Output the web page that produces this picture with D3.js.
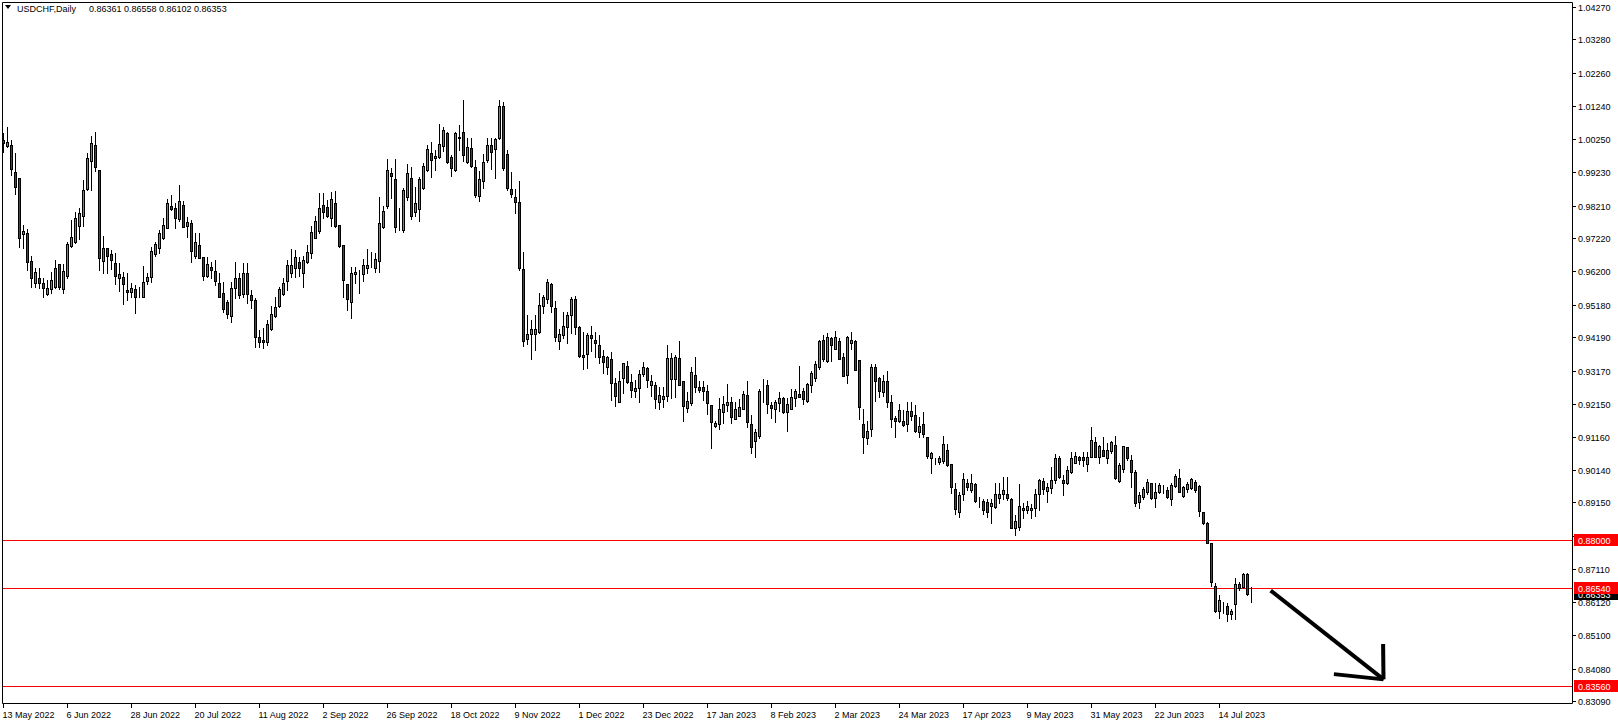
<!DOCTYPE html>
<html><head><meta charset="utf-8">
<script src="https://cdn.jsdelivr.net/npm/d3@7"></script>
<style>
html,body{margin:0;padding:0;background:#fff;overflow:hidden;}
svg{display:block;}
text{font-family:"Liberation Sans",Arial,sans-serif;font-size:9px;}
</style></head><body>
<svg id="c" width="1618" height="725"></svg>
<script>
// ---------------- data ----------------
const symbolTitle = "USDCHF,Daily";
const lastQuote = ["0.86361", "0.86558", "0.86102", "0.86353"];

const open = [1.0021,1.0004,1.0006,0.9922,0.9904,0.9733,0.9736,0.9652,0.9584,0.9599,
0.9584,0.9550,0.9565,0.9574,0.9642,0.9565,0.9607,0.9699,0.9709,0.9760,
0.9790,0.9871,0.9958,1.0006,0.9930,0.9652,0.9691,0.9673,0.9645,0.9601,
0.9604,0.9563,0.9556,0.9565,0.9545,0.9543,0.9591,0.9604,0.9674,0.9691,
0.9723,0.9754,0.9820,0.9813,0.9780,0.9823,0.9760,0.9767,0.9668,0.9701,
0.9663,0.9607,0.9635,0.9621,0.9586,0.9553,0.9527,0.9485,0.9568,0.9599,
0.9551,0.9614,0.9548,0.9533,0.9421,0.9411,0.9404,0.9444,0.9485,0.9513,
0.9550,0.9591,0.9616,0.9630,0.9648,0.9616,0.9648,0.9675,0.9723,0.9743,
0.9823,0.9816,0.9782,0.9828,0.9761,0.9701,0.9582,0.9526,0.9611,0.9611,
0.9611,0.9630,0.9637,0.9630,0.9653,0.9757,0.9821,0.9919,0.9902,0.9751,
0.9745,0.9846,0.9904,0.9800,0.9810,0.9876,0.9931,0.9980,0.9965,0.9970,
1.0003,1.0041,0.9968,0.9929,1.0028,1.0045,0.9953,0.9996,0.9938,0.9850,
0.9896,0.9960,1.0006,0.9994,1.0026,1.0125,0.9977,0.9871,0.9846,0.9833,
0.9626,0.9413,0.9428,0.9428,0.9436,0.9513,0.9535,0.9582,0.9507,0.9409,
0.9427,0.9451,0.9486,0.9535,0.9449,0.9365,0.9367,0.9425,0.9411,0.9394,
0.9361,0.9329,0.9353,0.9279,0.9223,0.9296,0.9330,0.9282,0.9254,0.9263,
0.9306,0.9325,0.9274,0.9272,0.9220,0.9232,0.9241,0.9293,0.9293,0.9355,
0.9285,0.9202,0.9217,0.9303,0.9267,0.9267,0.9255,0.9211,0.9149,0.9153,
0.9191,0.9213,0.9220,0.9171,0.9180,0.9200,0.9243,0.9154,0.9104,0.9119,
0.9281,0.9273,0.9212,0.9201,0.9218,0.9233,0.9190,0.9201,0.9235,0.9246,
0.9255,0.9226,0.9272,0.9296,0.9327,0.9410,0.9348,0.9416,0.9384,0.9407,
0.9359,0.9303,0.9403,0.9407,0.9349,0.9154,0.9113,0.9138,0.9327,0.9294,
0.9251,0.9286,0.9221,0.9172,0.9165,0.9163,0.9153,0.9193,0.9181,0.9129,
0.9153,0.9114,0.9052,0.9045,0.9037,0.9041,0.9074,0.9032,0.8956,0.8885,
0.8941,0.8973,0.8953,0.8970,0.8922,0.8920,0.8917,0.8905,0.8900,0.8930,
0.8940,0.8941,0.8926,0.8838,0.8841,0.8892,0.8892,0.8892,0.8899,0.8940,
0.8980,0.8951,0.8958,0.8984,0.9050,0.8984,0.8973,0.9007,0.9034,0.9053,
0.9053,0.9031,0.9055,0.9098,0.9055,0.9075,0.9050,0.9073,0.9090,0.8981,
0.9016,0.9083,0.9045,0.9008,0.8915,0.8933,0.8948,0.8973,0.8928,0.8946,
0.8957,0.8953,0.8925,0.8964,0.8989,0.8936,0.8955,0.8958,0.8977,0.8965,
0.8885,0.8853,0.8790,0.8661,0.8585,0.8602,0.8599,0.8574,0.8604,0.8666,
0.8656,0.8697,0.86361];

const high = [1.0041,1.0060,1.0021,0.9980,0.9906,0.9762,0.9749,0.9667,0.9630,0.9630,
0.9599,0.9594,0.9619,0.9655,0.9643,0.9642,0.9711,0.9777,0.9802,0.9815,
0.9899,0.9980,1.0034,1.0045,0.9930,0.9728,0.9691,0.9685,0.9675,0.9645,
0.9619,0.9614,0.9586,0.9579,0.9574,0.9638,0.9615,0.9696,0.9711,0.9746,
0.9784,0.9842,0.9853,0.9828,0.9883,0.9835,0.9785,0.9777,0.9736,0.9736,
0.9665,0.9665,0.9650,0.9655,0.9614,0.9589,0.9533,0.9589,0.9648,0.9614,
0.9645,0.9645,0.9563,0.9538,0.9441,0.9446,0.9472,0.9513,0.9541,0.9574,
0.9599,0.9655,0.9687,0.9685,0.9665,0.9667,0.9701,0.9759,0.9789,0.9858,
0.9858,0.9838,0.9863,0.9866,0.9762,0.9701,0.9582,0.9632,0.9633,0.9624,
0.9657,0.9687,0.9678,0.9675,0.9846,0.9820,0.9962,0.9937,0.9962,0.9813,
0.9874,0.9947,0.9938,0.9879,0.9907,0.9950,1.0006,1.0016,0.9991,1.0070,
1.0062,1.0044,0.9974,1.0047,1.0067,1.0143,1.0026,1.0026,0.9960,0.9925,
0.9977,1.0026,1.0026,1.0026,1.0143,1.0138,0.9991,0.9922,0.9871,0.9896,
0.9680,0.9487,0.9472,0.9487,0.9555,0.9548,0.9597,0.9584,0.9530,0.9444,
0.9497,0.9497,0.9543,0.9545,0.9452,0.9436,0.9431,0.9454,0.9436,0.9426,
0.9380,0.9362,0.9375,0.9294,0.9316,0.9340,0.9346,0.9306,0.9289,0.9319,
0.9345,0.9327,0.9304,0.9284,0.9268,0.9266,0.9396,0.9370,0.9365,0.9408,
0.9285,0.9251,0.9328,0.9359,0.9286,0.9287,0.9273,0.9212,0.9162,0.9233,
0.9240,0.9277,0.9238,0.9223,0.9230,0.9256,0.9287,0.9182,0.9139,0.9260,
0.9292,0.9289,0.9221,0.9228,0.9253,0.9236,0.9233,0.9261,0.9261,0.9331,
0.9263,0.9279,0.9315,0.9348,0.9411,0.9427,0.9433,0.9419,0.9438,0.9418,
0.9371,0.9423,0.9434,0.9411,0.9350,0.9200,0.9164,0.9338,0.9337,0.9299,
0.9304,0.9316,0.9243,0.9179,0.9215,0.9197,0.9222,0.9222,0.9212,0.9177,
0.9192,0.9116,0.9070,0.9050,0.9058,0.9118,0.9093,0.9033,0.8975,0.8948,
0.9004,0.8986,0.9002,0.8973,0.8933,0.8925,0.8925,0.8926,0.8973,0.8973,
0.8992,0.8992,0.8930,0.8877,0.8971,0.8912,0.8919,0.8910,0.8955,0.8987,
0.8991,0.8973,0.9024,0.9063,0.9057,0.8999,0.9026,0.9068,0.9070,0.9057,
0.9070,0.9070,0.9146,0.9114,0.9090,0.9116,0.9095,0.9104,0.9118,0.9036,
0.9088,0.9085,0.9060,0.9014,0.8948,0.8961,0.8987,0.8975,0.8975,0.8975,
0.8968,0.8963,0.8973,0.9002,0.9016,0.8966,0.8978,0.8991,0.8984,0.8968,
0.8887,0.8856,0.8792,0.8668,0.8632,0.8612,0.8607,0.8590,0.8683,0.8673,
0.8699,0.8699,0.86558];

const low = [0.9986,1.0001,0.9914,0.9855,0.9694,0.9691,0.9624,0.9574,0.9574,0.9568,
0.9541,0.9549,0.9555,0.9568,0.9565,0.9553,0.9599,0.9696,0.9708,0.9719,
0.9760,0.9869,0.9869,0.9925,0.9624,0.9616,0.9616,0.9627,0.9581,0.9561,
0.9520,0.9533,0.9543,0.9492,0.9541,0.9541,0.9582,0.9589,0.9666,0.9675,
0.9719,0.9753,0.9808,0.9752,0.9775,0.9755,0.9726,0.9650,0.9662,0.9661,
0.9594,0.9604,0.9601,0.9579,0.9541,0.9497,0.9479,0.9467,0.9540,0.9538,
0.9543,0.9523,0.9507,0.9390,0.9390,0.9385,0.9396,0.9441,0.9482,0.9510,
0.9548,0.9563,0.9604,0.9604,0.9606,0.9574,0.9645,0.9662,0.9721,0.9738,
0.9784,0.9787,0.9760,0.9757,0.9696,0.9543,0.9502,0.9477,0.9586,0.9553,
0.9592,0.9616,0.9632,0.9617,0.9617,0.9752,0.9813,0.9845,0.9741,0.9746,
0.9741,0.9838,0.9780,0.9790,0.9775,0.9872,0.9925,0.9909,0.9930,0.9965,
0.9989,0.9950,0.9912,0.9927,0.9991,0.9958,0.9950,0.9938,0.9848,0.9835,
0.9874,0.9955,0.9933,0.9906,1.0025,0.9930,0.9869,0.9846,0.9797,0.9624,
0.9393,0.9398,0.9352,0.9380,0.9431,0.9494,0.9525,0.9495,0.9409,0.9384,
0.9416,0.9403,0.9433,0.9428,0.9358,0.9323,0.9326,0.9378,0.9360,0.9340,
0.9309,0.9307,0.9229,0.9210,0.9222,0.9250,0.9281,0.9238,0.9236,0.9223,
0.9302,0.9266,0.9241,0.9202,0.9199,0.9205,0.9225,0.9233,0.9236,0.9272,
0.9165,0.9192,0.9212,0.9253,0.9253,0.9228,0.9184,0.9082,0.9144,0.9138,
0.9156,0.9194,0.9156,0.9170,0.9179,0.9200,0.9146,0.9067,0.9055,0.9113,
0.9223,0.9189,0.9174,0.9159,0.9194,0.9189,0.9134,0.9201,0.9210,0.9236,
0.9215,0.9221,0.9251,0.9287,0.9322,0.9348,0.9345,0.9348,0.9383,0.9353,
0.9302,0.9281,0.9384,0.9319,0.9170,0.9067,0.9092,0.9118,0.9226,0.9236,
0.9241,0.9207,0.9144,0.9116,0.9160,0.9149,0.9134,0.9167,0.9131,0.9116,
0.9116,0.9050,0.9004,0.9032,0.9031,0.9034,0.9027,0.8943,0.8880,0.8870,
0.8922,0.8953,0.8948,0.8917,0.8902,0.8880,0.8872,0.8851,0.8897,0.8912,
0.8926,0.8922,0.8836,0.8816,0.8831,0.8867,0.8882,0.8867,0.8875,0.8892,
0.8940,0.8917,0.8943,0.8973,0.8989,0.8938,0.8971,0.9004,0.9034,0.9031,
0.9027,0.9012,0.9053,0.9053,0.9034,0.9057,0.9034,0.9067,0.8987,0.8978,
0.9009,0.9045,0.8963,0.8904,0.8899,0.8925,0.8941,0.8925,0.8902,0.8943,
0.8945,0.8930,0.8907,0.8961,0.8946,0.8933,0.8948,0.8955,0.8946,0.8875,
0.8849,0.8790,0.8660,0.8582,0.8563,0.8579,0.8554,0.8559,0.8559,0.8648,
0.8653,0.8632,0.86102];

const close = [1.0011,1.0014,0.9932,0.9879,0.9723,0.9743,0.9650,0.9601,0.9617,0.9584,
0.9568,0.9568,0.9594,0.9630,0.9574,0.9621,0.9704,0.9725,0.9784,0.9798,
0.9869,0.9965,1.0012,0.9938,0.9662,0.9691,0.9668,0.9655,0.9607,0.9612,
0.9581,0.9558,0.9570,0.9543,0.9545,0.9589,0.9604,0.9681,0.9703,0.9736,
0.9762,0.9828,0.9811,0.9784,0.9834,0.9757,0.9770,0.9683,0.9709,0.9662,
0.9607,0.9642,0.9624,0.9592,0.9543,0.9505,0.9490,0.9568,0.9601,0.9548,
0.9614,0.9550,0.9533,0.9421,0.9406,0.9406,0.9459,0.9489,0.9511,0.9566,
0.9584,0.9640,0.9640,0.9663,0.9630,0.9655,0.9678,0.9739,0.9774,0.9813,
0.9800,0.9790,0.9840,0.9759,0.9699,0.9595,0.9535,0.9614,0.9617,0.9611,
0.9640,0.9640,0.9637,0.9658,0.9767,0.9804,0.9929,0.9912,0.9755,0.9751,
0.9870,0.9919,0.9790,0.9828,0.9901,0.9941,0.9993,0.9961,0.9972,1.0008,
1.0051,0.9953,0.9935,1.0041,1.0029,0.9975,1.0001,0.9942,0.9853,0.9901,
0.9953,1.0006,0.9984,1.0023,1.0125,0.9935,0.9876,0.9856,0.9833,0.9629,
0.9409,0.9428,0.9443,0.9443,0.9517,0.9541,0.9587,0.9516,0.9421,0.9428,
0.9452,0.9486,0.9535,0.9451,0.9362,0.9360,0.9425,0.9418,0.9403,0.9360,
0.9343,0.9358,0.9281,0.9241,0.9285,0.9340,0.9282,0.9259,0.9264,0.9307,
0.9327,0.9290,0.9285,0.9230,0.9242,0.9240,0.9355,0.9356,0.9358,0.9274,
0.9210,0.9225,0.9313,0.9268,0.9258,0.9256,0.9217,0.9161,0.9156,0.9199,
0.9215,0.9221,0.9177,0.9199,0.9205,0.9247,0.9159,0.9083,0.9130,0.9255,
0.9280,0.9216,0.9204,0.9222,0.9233,0.9190,0.9214,0.9236,0.9255,0.9238,
0.9230,0.9275,0.9310,0.9338,0.9407,0.9354,0.9419,0.9395,0.9419,0.9354,
0.9302,0.9420,0.9410,0.9320,0.9207,0.9116,0.9132,0.9327,0.9287,0.9256,
0.9286,0.9220,0.9171,0.9163,0.9197,0.9152,0.9194,0.9180,0.9133,0.9147,
0.9123,0.9058,0.9065,0.9045,0.9051,0.9092,0.9030,0.8961,0.8895,0.8938,
0.8986,0.8961,0.8973,0.8920,0.8922,0.8893,0.8885,0.8912,0.8940,0.8940,
0.8953,0.8930,0.8838,0.8858,0.8904,0.8897,0.8904,0.8899,0.8940,0.8984,
0.8955,0.8961,0.8984,0.9050,0.8992,0.8975,0.9014,0.9050,0.9057,0.9045,
0.9043,0.9055,0.9105,0.9055,0.9087,0.9058,0.9075,0.9099,0.8989,0.9029,
0.9087,0.9050,0.9009,0.8914,0.8937,0.8956,0.8976,0.8928,0.8946,0.8967,
0.8956,0.8933,0.8967,0.8995,0.8948,0.8961,0.8970,0.8986,0.8953,0.8890,
0.8851,0.8792,0.8673,0.8585,0.8617,0.8602,0.8575,0.8584,0.8666,0.8655,
0.8697,0.8636,0.86353];

const priceTickLabels = ["1.04270","1.03280","1.02260","1.01240","1.00250","0.99230","0.98210",
  "0.97220","0.96200","0.95180","0.94190","0.93170","0.92150","0.91160","0.90140","0.89150",
  "0.88130","0.87110","0.86120","0.85100","0.84080","0.83090"];
const dateTickIndex = [0,16,32,48,64,80,96,112,128,144,160,176,192,208,224,240,256,272,288,304];
const dateTickLabels = ["13 May 2022","6 Jun 2022","28 Jun 2022","20 Jul 2022","11 Aug 2022",
  "2 Sep 2022","26 Sep 2022","18 Oct 2022","9 Nov 2022","1 Dec 2022","23 Dec 2022",
  "17 Jan 2023","8 Feb 2023","2 Mar 2023","24 Mar 2023","17 Apr 2023","9 May 2023",
  "31 May 2023","22 Jun 2023","14 Jul 2023"];
const levelPrices = [0.88000, 0.86540, 0.83560];
const levelLabels = ["0.88000", "0.86540", "0.83560"];
const currentPrice = 0.86353;
// drawn arrow (bar index, price)
const arrowShaft = [[316.8, 0.8646], [345.0, 0.8375]];
const arrowHeadA = [[345.0, 0.8375], [344.9, 0.8483]];
const arrowHeadB = [[345.0, 0.8375], [332.6, 0.8391]];

// ---------------- layout ----------------
const W = 1618, H = 725;
const plot = {left: 2, right: 1572, top: 2, bottom: 703};
const UP = "#32b432", DOWN = "#e60000", LEVEL = "#ff0000";

const svg = d3.select("#c");
const x = d3.scaleLinear().domain([0, 1]).range([3.5, 7.5]);
const y = d3.scaleLinear().domain([0.83090, 1.04270]).range([701, 7]);

svg.append("rect").attr("width", W).attr("height", H).attr("fill", "#fff");

svg.append("defs").append("clipPath").attr("id", "pc")
  .append("rect").attr("x", plot.left).attr("y", plot.top)
  .attr("width", plot.right - plot.left).attr("height", plot.bottom - plot.top);

const g = svg.append("g").attr("clip-path", "url(#pc)");

// level lines
g.selectAll("line.level").data(levelPrices).join("line")
  .attr("x1", plot.left).attr("x2", plot.right)
  .attr("y1", d => Math.round(y(d)) + 0.5).attr("y2", d => Math.round(y(d)) + 0.5)
  .attr("stroke", LEVEL).attr("stroke-width", 1);

const bars = d3.range(open.length).map(i => ({i, o: open[i], h: high[i], l: low[i], c: close[i]}));

// wicks
g.selectAll("line.wick").data(bars).join("line")
  .attr("x1", d => x(d.i)).attr("x2", d => x(d.i))
  .attr("y1", d => Math.round(y(d.h))).attr("y2", d => Math.round(y(d.l)) + 1)
  .attr("stroke", "#000").attr("stroke-width", 1);

// bodies
g.selectAll("rect.body").data(bars).join("rect")
  .attr("x", d => x(d.i) - 1)
  .attr("width", 2)
  .attr("y", d => Math.round(y(Math.max(d.o, d.c))) + 0.5)
  .attr("height", d => Math.abs(Math.round(y(d.o)) - Math.round(y(d.c))))
  .attr("fill", d => d.c >= d.o ? UP : DOWN)
  .attr("stroke", "#000").attr("stroke-width", 1);

// arrow
const lineGen = d3.line().x(d => x(d[0])).y(d => y(d[1]));
[arrowShaft, arrowHeadA, arrowHeadB].forEach(seg => {
  g.append("path").attr("d", lineGen(seg)).attr("fill", "none")
    .attr("stroke", "#000").attr("stroke-width", 4).attr("stroke-linecap", "butt");
});

// frame
svg.append("path")
  .attr("d", `M${plot.left + 0.5},${plot.top + 0.5}V${plot.bottom + 0.5}H${plot.right + 0.5}V${plot.top + 0.5}Z`)
  .attr("fill", "none").attr("stroke", "#000").attr("stroke-width", 1);

// price axis ticks + labels
const pa = svg.append("g");
priceTickLabels.forEach(t => {
  const yy = Math.round(y(+t)) + 0.5;
  pa.append("line").attr("x1", plot.right + 1).attr("x2", plot.right + 4)
    .attr("y1", yy).attr("y2", yy).attr("stroke", "#000");
  pa.append("text").attr("x", plot.right + 6).attr("y", yy + 3.5).attr("fill", "#000").text(t);
});

// current price box (black)
{
  const yy = Math.round(y(currentPrice));
  pa.append("rect").attr("x", plot.right + 2).attr("y", yy - 6).attr("width", 44).attr("height", 12).attr("fill", "#000");
  pa.append("text").attr("x", plot.right + 6).attr("y", yy + 3.5).attr("fill", "#fff").text(lastQuote[3]);
}
// level boxes (red)
levelPrices.forEach((p, k) => {
  const yy = Math.round(y(p));
  pa.append("rect").attr("x", plot.right + 2).attr("y", yy - 6).attr("width", 44).attr("height", 12).attr("fill", LEVEL);
  pa.append("text").attr("x", plot.right + 6).attr("y", yy + 3.5).attr("fill", "#fff").text(levelLabels[k]);
});

// time axis
const ta = svg.append("g");
dateTickIndex.forEach((idx, k) => {
  const xx = Math.floor(x(idx)) + 0.5;
  ta.append("line").attr("x1", xx).attr("x2", xx).attr("y1", plot.bottom + 1).attr("y2", plot.bottom + 5).attr("stroke", "#000");
  ta.append("text").attr("x", xx - 1).attr("y", plot.bottom + 15).attr("fill", "#000").text(dateTickLabels[k]);
});

// header
svg.append("path").attr("d", "M5,5H11L8,9Z").attr("fill", "#000");
svg.append("text").attr("x", 17).attr("y", 12).attr("fill", "#000").text(symbolTitle);
svg.append("text").attr("x", 89).attr("y", 12).attr("fill", "#000").text(lastQuote.join(" "));
</script>
</body></html>
